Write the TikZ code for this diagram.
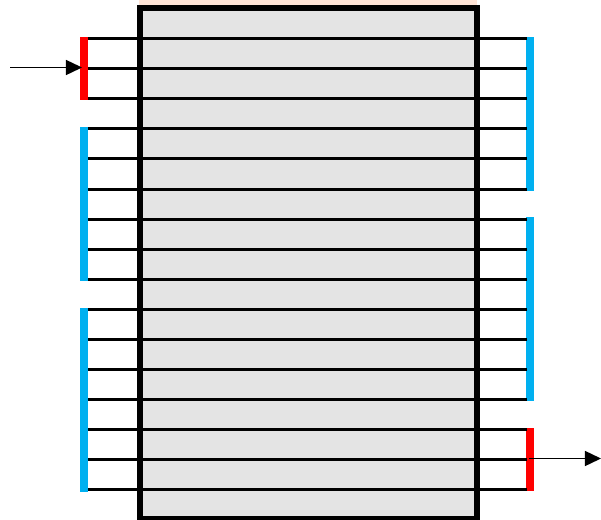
\documentclass[tikz,border=0pt]{standalone}
\usetikzlibrary{arrows.meta}
\definecolor{barblue}{HTML}{00B0F0}
\definecolor{bodygrey}{HTML}{E4E4E4}
\definecolor{toppeach}{HTML}{FFE4D6}
\tikzset{
  wall/.style={draw=black,line width=4.27pt,fill=bodygrey,inner sep=0pt,outer sep=0pt},
  bar/.style={inner sep=0pt,outer sep=0pt,minimum width=0.2cm},
  redbar/.style={bar,fill=red},
  bluebar/.style={bar,fill=barblue},
  rowline/.style={line width=2.13pt},
  flow/.style={line width=0.95pt,-{Triangle[length=11.4pt,width=10.7pt]}}
}
\begin{document}
\begin{tikzpicture}[x=0.025cm,y=-0.025cm]
\useasboundingbox (0,0) rectangle (601,520);
\node[fill=toppeach,inner sep=0pt,minimum width=8.45cm,minimum height=0.15cm] (strip) at (308,3) {};
\node[wall,minimum width=8.425cm,minimum height=12.775cm] (body) at (308.5,263.5) {};

\node[redbar,minimum height=1.575cm] (inbar) at (84,68.5) {};
\node[bluebar,minimum height=3.85cm] (leftblue1) at (84,204) {};
\node[bluebar,minimum height=4.6cm] (leftblue2) at (84,400) {};
\node[bluebar,minimum height=3.85cm] (rightblue1) at (530,114) {};
\node[bluebar,minimum height=4.6cm] (rightblue2) at (530,309) {};
\node[redbar,minimum height=1.575cm] (outbar) at (530,459.5) {};

\coordinate (a1) at (88,38.5);   \coordinate (b1) at (527,38.5);
\coordinate (a2) at (88,68.5);   \coordinate (b2) at (527,68.5);
\coordinate (a3) at (88,98.5);   \coordinate (b3) at (527,98.5);
\coordinate (a4) at (88,128.5);  \coordinate (b4) at (527,128.5);
\coordinate (a5) at (88,158.5);  \coordinate (b5) at (527,158.5);
\coordinate (a6) at (88,189.5);  \coordinate (b6) at (527,189.5);
\coordinate (a7) at (88,219.5);  \coordinate (b7) at (527,219.5);
\coordinate (a8) at (88,249.5);  \coordinate (b8) at (527,249.5);
\coordinate (a9) at (88,279.5);  \coordinate (b9) at (527,279.5);
\coordinate (a10) at (88,309.5); \coordinate (b10) at (527,309.5);
\coordinate (a11) at (88,339.5); \coordinate (b11) at (527,339.5);
\coordinate (a12) at (88,369.5); \coordinate (b12) at (527,369.5);
\coordinate (a13) at (88,399.5); \coordinate (b13) at (527,399.5);
\coordinate (a14) at (88,429.5); \coordinate (b14) at (527,429.5);
\coordinate (a15) at (88,459.5); \coordinate (b15) at (527,459.5);
\coordinate (a16) at (88,489.5); \coordinate (b16) at (527,489.5);
\draw[rowline] (a1)--(b1);
\draw[rowline] (a2)--(b2);
\draw[rowline] (a3)--(b3);
\draw[rowline] (a4)--(b4);
\draw[rowline] (a5)--(b5);
\draw[rowline] (a6)--(b6);
\draw[rowline] (a7)--(b7);
\draw[rowline] (a8)--(b8);
\draw[rowline] (a9)--(b9);
\draw[rowline] (a10)--(b10);
\draw[rowline] (a11)--(b11);
\draw[rowline] (a12)--(b12);
\draw[rowline] (a13)--(b13);
\draw[rowline] (a14)--(b14);
\draw[rowline] (a15)--(b15);
\draw[rowline] (a16)--(b16);

\coordinate (instart) at (10,67.5);
\coordinate (inend) at (82,67.5);
\coordinate (outstart) at (529,458.5);
\coordinate (outend) at (601,458.5);
\draw[flow] (instart)--(inend);
\draw[flow] (outstart)--(outend);
\end{tikzpicture}
\end{document}
